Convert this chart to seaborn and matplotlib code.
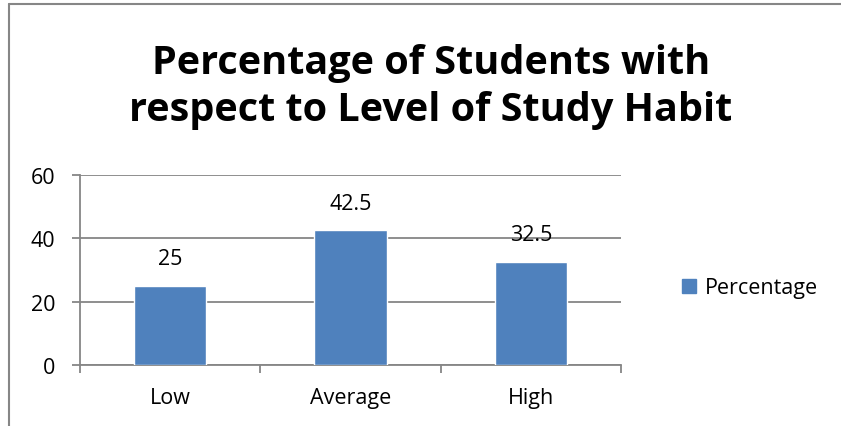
import seaborn as sns
import matplotlib.pyplot as plt
import matplotlib.patches as mpatches
from matplotlib.lines import Line2D
import pandas as pd

levels = ["Low", "Average", "High"]
percentages = [25, 42.5, 32.5]
value_labels = ["25", "42.5", "32.5"]
yticks = [0, 20, 40, 60]

BAR = "#4F81BD"
GRID = "#868686"

sns.set_style("white")
plt.rcParams['font.family'] = ['Open Sans', 'DejaVu Sans']
plt.rcParams['text.color'] = 'black'
plt.rcParams['xtick.color'] = 'black'
plt.rcParams['ytick.color'] = 'black'

W, H = 841, 427
fig = plt.figure(figsize=(W / 100, H / 100), dpi=100)

# outer chart frame: only its left and top edges show in the reference
fig.add_artist(Line2D([9 / W, 9 / W], [0, 1 - 5 / H], color=GRID, linewidth=1.5))
fig.add_artist(Line2D([9 / W, 1], [1 - 5 / H, 1 - 5 / H], color=GRID, linewidth=1.5))

ax = fig.add_axes([80 / W, (H - 366) / H, 541 / W, (366 - 175.7) / H])
dfrm = pd.DataFrame({"level": levels, "pct": percentages})
sns.barplot(x="level", y="pct", data=dfrm, color=BAR, saturation=1,
            width=0.4, ax=ax, zorder=3)

ax.set_xlim(-0.5, 2.5)
ax.set_ylim(0, 60)
ax.set_yticks(yticks)
ax.set_xlabel("")
ax.set_ylabel("")
ax.yaxis.grid(True, color=GRID, linewidth=1.3, zorder=0)
ax.set_axisbelow(True)
for side in ["top", "right"]:
    ax.spines[side].set_visible(False)
for side in ["left", "bottom"]:
    ax.spines[side].set_color(GRID)
    ax.spines[side].set_linewidth(1.3)

ax.tick_params(axis="y", length=6, width=1.3, color=GRID, labelcolor="black",
               pad=12, labelsize=15.5, left=True)
ax.tick_params(axis="x", which="major", length=0, pad=16, labelsize=15.5,
               labelcolor="black")
ax.set_xticks([-0.5, 0.5, 1.5, 2.5], minor=True)
ax.tick_params(axis="x", which="minor", length=6, width=1.3, color=GRID,
               bottom=True)

for i, (val, lab) in enumerate(zip(percentages, value_labels)):
    ax.annotate(lab, (i, val), xytext=(0, 12), textcoords="offset points",
                ha="center", va="bottom", fontsize=15.5, color="black")

fig.text(431 / W, 1 - 87 / H, "Percentage of Students with\nrespect to Level of Study Habit",
         ha="center", va="center", fontsize=28.5, fontweight="bold",
         linespacing=1.28, color="black")

handle = mpatches.Patch(color=BAR, label="Percentage")
fig.legend(handles=[handle], loc="center left", bbox_to_anchor=(663 / W, 1 - 289 / H),
           frameon=False, fontsize=15.5, handlelength=0.65, handleheight=0.65,
           handletextpad=0.4, labelcolor="black")

plt.savefig("out.png", dpi=100)
